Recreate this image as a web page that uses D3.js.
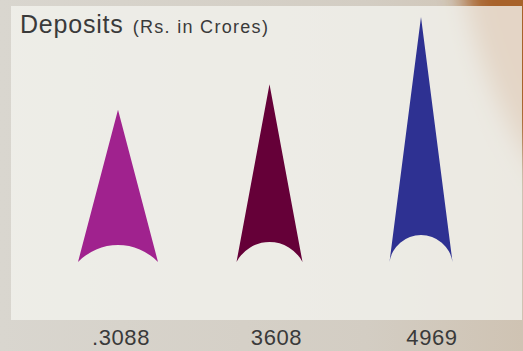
<!DOCTYPE html>
<html>
<head>
<meta charset="utf-8">
<script src="https://cdn.jsdelivr.net/npm/d3@7/dist/d3.min.js"></script>
<style>
  html, body { margin: 0; padding: 0; background: #d8d4cd; }
  svg { display: block; }
  text { font-family: "Liberation Sans", Arial, sans-serif; }
</style>
</head>
<body>
<svg id="chart" width="523" height="351"></svg>
<script>
// Deposits by year, Rs. in Crores
const categories = ["a", "b", "c"];
const valueLabels = [".3088", "3608", "4969"];
const values = [3088, 3608, 4969];
const colors = ["#a0228e", "#650038", "#2e3192"];

// arrow footprint per mark
const arrowWidths = [80, 66, 63];
const notchDepths = [17, 20, 27];

const W = 523, H = 351;
const svg = d3.select("#chart");
const defs = svg.append("defs");

// backdrop
const bg = defs.append("linearGradient").attr("id", "bg").attr("x1", 0).attr("x2", 1).attr("y1", 0).attr("y2", 0);
bg.append("stop").attr("offset", "0%").attr("stop-color", "#d9d6cf");
bg.append("stop").attr("offset", "70%").attr("stop-color", "#d3cdc3");
bg.append("stop").attr("offset", "100%").attr("stop-color", "#cfc3b3");
svg.append("rect").attr("width", W).attr("height", H).attr("fill", "url(#bg)");

defs.append("filter").attr("id", "soft").attr("x", "-50%").attr("y", "-50%").attr("width", "200%").attr("height", "200%")
  .append("feGaussianBlur").attr("stdDeviation", 12);

svg.append("ellipse")
  .attr("cx", 560).attr("cy", 40).attr("rx", 80).attr("ry", 200)
  .attr("transform", "rotate(-20 560 40)")
  .attr("fill", "#a8622c")
  .attr("filter", "url(#soft)");

// panel
svg.append("rect")
  .attr("x", 11).attr("y", 6).attr("width", 511).attr("height", 314)
  .attr("fill", "#f3f2ee").attr("fill-opacity", 0.8);

// title
const title = svg.append("text").attr("x", 20).attr("y", 33).attr("fill", "#3a3a3a");
title.append("tspan").attr("font-size", 25).attr("letter-spacing", 0.8).text("Deposits");
title.append("tspan").attr("font-size", 18).attr("dx", 9).attr("letter-spacing", 1.3).text("(Rs. in Crores)");

// scales
const x = d3.scalePoint().domain(categories).range([118, 421]);
const xLabel = d3.scalePoint().domain(categories).range([121, 432]);
const y = d3.scaleLinear().domain([0, 5000]).range([262, 15.5]);

const arrowPath = (d, i) => {
  const cx = x(categories[i]);
  const w = arrowWidths[i] / 2;
  const s = notchDepths[i];
  const r = (w * w + s * s) / (2 * s);
  const base = y(0), top = y(d);
  return `M${cx},${top} L${cx + w},${base} A${r},${r} 0 0 0 ${cx - w},${base} Z`;
};

svg.append("g").selectAll("path")
  .data(values)
  .join("path")
  .attr("d", arrowPath)
  .attr("fill", (d, i) => colors[i]);

svg.append("g").selectAll("text")
  .data(valueLabels)
  .join("text")
  .attr("x", (d, i) => xLabel(categories[i]))
  .attr("y", 345)
  .attr("text-anchor", "middle")
  .attr("font-size", 22)
  .attr("letter-spacing", 0.6)
  .attr("fill", "#3a3a3a")
  .text(d => d);
</script>
</body>
</html>
